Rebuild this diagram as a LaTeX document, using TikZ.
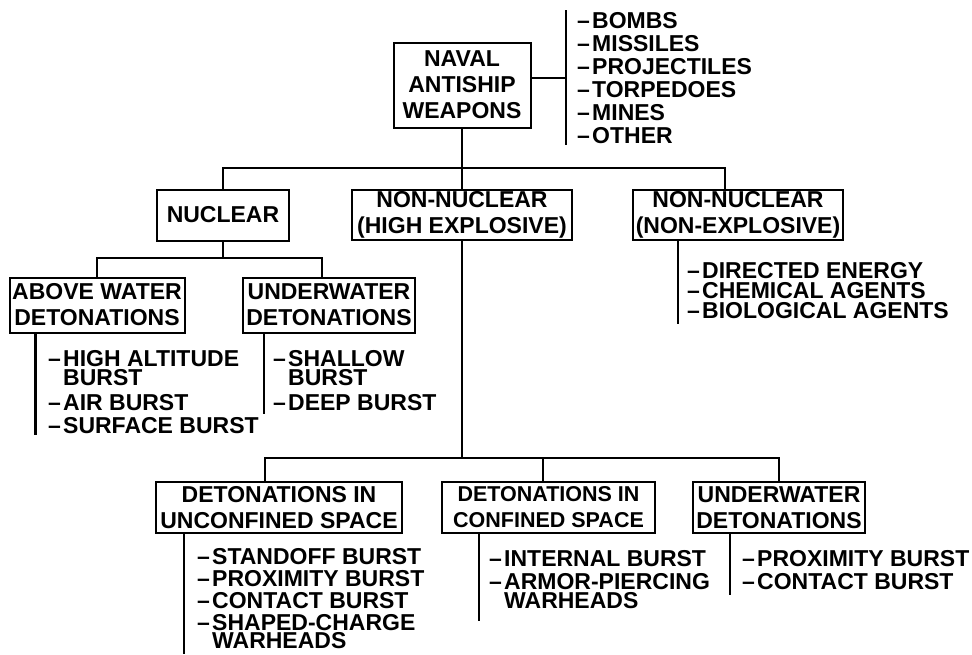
\documentclass[tikz,border=0pt]{standalone}
\usepackage{fontspec}
\setmainfont{Liberation Sans}
\usepackage{tikz}
\tikzset{box/.style = {draw, line width = 2pt, align = center, inner sep = 1pt,
                       minimum height = 50pt,
                       font = \fontsize{23}{26}\selectfont\bfseries}}
\tikzset{lst/.style = {anchor = north west, align = left, inner sep = 0,
                       font = \fontsize{23}{23}\selectfont\bfseries}}
\tikzset{wire/.style = {line width = 2.4pt}}
\newcommand{\itm}{\makebox[15pt][l]{--}}
\newcommand{\cnt}{\hspace*{15pt}}

\begin{document}
\begin{tikzpicture}[x = 1pt, y = -1pt]
      \useasboundingbox (0, 0) rectangle (972, 654);

      \node [box, minimum width = 137pt, minimum height = 85pt] (top) at (462, 85)
            {NAVAL\\ANTISHIP\\WEAPONS};
      \node [lst] (wlist) at (577, 12)
            {\itm BOMBS\\\itm MISSILES\\\itm PROJECTILES\\\itm TORPEDOES\\\itm MINES\\\itm OTHER};
      \coordinate (wtop) at (566, 10);
      \coordinate (wbot) at (566, 145);
      \coordinate (wmid) at (566, 78);
      \draw [wire] (wtop) -- (wbot);
      \draw [wire] (top.east |- wmid) -- (wmid);

      \node [box, minimum width = 132pt, minimum height = 51pt] (nuc) at (223, 215) {NUCLEAR};
      \node [box, minimum width = 220pt] (he) at (462, 215) {NON-NUCLEAR\\(HIGH EXPLOSIVE)};
      \node [box, minimum width = 210pt] (ne) at (738, 215) {NON-NUCLEAR\\(NON-EXPLOSIVE)};
      \coordinate (bus1) at (462, 168);
      \draw [wire] (top.south) -- (bus1) -- (he.north);
      \draw [wire] (nuc.north) |- (bus1) -| ([xshift=-13pt]ne.north);

      \node [lst] (nelist) at (687, 262)
            {\itm DIRECTED ENERGY\\[-3pt]\itm CHEMICAL AGENTS\\[-3pt]\itm BIOLOGICAL AGENTS};
      \draw [wire] ([xshift=-60pt]ne.south) -- ++(0, 83);

      \node [box, minimum width = 175pt, minimum height = 55pt] (aw) at (97, 305)
            {ABOVE WATER\\DETONATIONS};
      \node [box, minimum width = 172pt, minimum height = 55pt] (uw) at (329, 305)
            {UNDERWATER\\DETONATIONS};
      \coordinate (bus2) at (223, 258);
      \draw [wire] (nuc.south) -- (bus2);
      \draw [wire] (aw.north) |- (bus2) -| ([xshift=-7pt]uw.north);

      \node [lst] (awlist) at (48, 350)
            {\itm HIGH ALTITUDE\\[-4pt]\cnt BURST\\[2pt]\itm AIR BURST\\\itm SURFACE BURST};
      \draw [wire] ([xshift=27pt]aw.south west) -- ++(0, 101);
      \node [lst] (uwlist) at (273, 350)
            {\itm SHALLOW\\[-4pt]\cnt BURST\\[2pt]\itm DEEP BURST};
      \draw [wire] ([xshift=22pt]uw.south west) -- ++(0, 80);

      \node [box, minimum width = 246pt, minimum height = 51pt] (unc) at (279, 507.5)
            {DETONATIONS IN\\UNCONFINED SPACE};
      \node [box, minimum width = 213pt, minimum height = 51pt,
             font = \fontsize{21.5}{26}\selectfont\bfseries] (conf) at (548.5, 507.5)
            {DETONATIONS IN\\CONFINED SPACE};
      \node [box, minimum width = 172pt, minimum height = 51pt] (uwb) at (779, 507.5)
            {UNDERWATER\\DETONATIONS};
      \coordinate (bus3) at (462, 458);
      \draw [wire] (he.south) -- (bus3);
      \draw [wire] ([xshift=-14pt]unc.north) |- (bus3) -| (uwb.north);
      \draw [wire] ([xshift=-5.5pt]conf.north) -- ([xshift=-5.5pt]conf.north |- bus3);

      \node [lst, font = \fontsize{23}{22}\selectfont\bfseries] (unclist) at (197, 548)
            {\itm STANDOFF BURST\\\itm PROXIMITY BURST\\\itm CONTACT BURST\\
             \itm SHAPED-CHARGE\\[-4pt]\cnt WARHEADS};
      \draw [wire] ([xshift=29pt]unc.south west) -- ++(0, 120);
      \node [lst] (conflist) at (489, 550)
            {\itm INTERNAL BURST\\\itm ARMOR-PIERCING\\[-4pt]\cnt WARHEADS};
      \draw [wire] ([xshift=38pt]conf.south west) -- ++(0, 87);
      \node [lst] (uwblist) at (742, 550)
            {\itm PROXIMITY BURST\\\itm CONTACT BURST};
      \draw [wire] ([xshift=38pt]uwb.south west) -- ++(0, 61);
    \end{tikzpicture}
\end{document}
